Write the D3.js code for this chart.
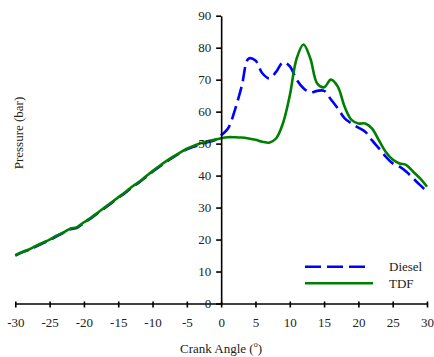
<!DOCTYPE html>
<html>
<head>
<meta charset="utf-8">
<script src="https://cdn.jsdelivr.net/npm/d3@7"></script>
<style>
  body { margin: 0; background: #fff; }
  svg text { font-family: "Liberation Serif", "Times New Roman", serif; fill: #222; }
</style>
</head>
<body>
<svg id="plot" width="434" height="357"></svg>
<script>
// crank angle (deg)
const angles = d3.range(-30, 31);
// pressure (bar)
const diesel = [
  15.0, 16.0, 16.8, 17.8, 18.8, 19.8, 21.0, 22.1, 23.2, 23.7, 25.2,
  26.6, 28.2, 29.8, 31.4, 33.0, 34.6, 36.3, 37.8, 39.5, 41.2,
  42.8, 44.3, 45.7, 47.0, 48.2, 49.0, 49.8, 50.4, 51.0, 52.6,
  54.7, 60.5, 68.0, 76.6, 76.0, 72.0, 70.4, 72.4, 75.4, 74.2,
  70.0, 67.3, 66.0, 66.5, 66.5, 63.8, 61.0, 57.9, 56.3, 55.0,
  53.7, 51.0, 48.5, 45.9, 43.8, 42.8, 41.2, 39.1, 37.0, 35.0
];
const tdf = [
  15.1, 16.1, 16.9, 18.0, 19.0, 20.0, 21.2, 22.2, 23.4, 23.9, 25.4,
  26.8, 28.4, 30.0, 31.6, 33.2, 34.8, 36.5, 38.0, 39.7, 41.4,
  43.0, 44.5, 45.9, 47.2, 48.4, 49.3, 50.1, 50.7, 51.2, 51.7,
  52.0, 52.0, 51.9, 51.6, 51.2, 50.6, 50.3, 51.6, 56.3, 65.0,
  76.6, 81.0, 76.6, 68.8, 67.6, 70.0, 67.8, 61.5, 57.4, 56.3,
  56.3, 54.7, 51.0, 47.4, 45.0, 43.8, 43.3, 41.2, 39.1, 36.5
];
const xTicks = d3.range(-30, 31, 5);
const yTicks = d3.range(0, 91, 10);
const seriesNames = ["Diesel", "TDF"];

const svg = d3.select("#plot");
const x = d3.scaleLinear([-30, 30], [15.3, 427]);
const y = d3.scaleLinear([0, 90], [303.5, 15.7]);

// data lines
const line = (vals) =>
  d3.line().x((d, i) => x(angles[i])).y((d) => y(d)).curve(d3.curveCatmullRom.alpha(0.5))(vals);

svg.append("path").attr("d", line(diesel))
  .attr("fill", "none").attr("stroke", "#0000ff").attr("stroke-width", 2.6)
  .attr("stroke-dasharray", "14,6");
svg.append("path").attr("d", line(tdf))
  .attr("fill", "none").attr("stroke", "#008000").attr("stroke-width", 2.6);

// x axis along y = 0
const gx = svg.append("g")
  .attr("transform", `translate(0, ${y(0)})`)
  .call(d3.axisBottom(x).tickValues(xTicks).tickFormat((d) => String(d))
    .tickSize(4).tickSizeOuter(0).tickPadding(10));
// y axis at x = 0
const gy = svg.append("g")
  .attr("transform", `translate(${x(0)}, 0)`)
  .call(d3.axisLeft(y).tickValues(yTicks).tickFormat((d) => String(d))
    .tickSize(5).tickSizeOuter(0).tickPadding(5));

[gx, gy].forEach((g) => {
  g.select(".domain").attr("stroke", "#000").attr("stroke-width", 1.6);
  g.selectAll(".tick line").attr("stroke", "#000").attr("stroke-width", 1.6);
  g.selectAll(".tick text").attr("font-size", 13).attr("font-family", "Liberation Serif").attr("fill", "#222");
});
gx.selectAll(".tick line").attr("y1", -2);

// axis titles
svg.append("text")
  .attr("transform", "translate(23, 133) rotate(-90)")
  .attr("text-anchor", "middle").attr("font-size", 13)
  .text("Pressure (bar)");
const xt = svg.append("text")
  .attr("x", 221).attr("y", 353)
  .attr("text-anchor", "middle").attr("font-size", 13);
xt.append("tspan").text("Crank Angle (");
xt.append("tspan").attr("font-size", 8).attr("dy", -6).text("o");
xt.append("tspan").attr("dy", 6).text(")");

// legend
const legend = svg.append("g");
const legY = [266.7, 283.3];
const legEnd = [367, 373];
seriesNames.forEach((name, i) => {
  legend.append("line")
    .attr("x1", 305).attr("x2", legEnd[i]).attr("y1", legY[i]).attr("y2", legY[i])
    .attr("stroke", i === 0 ? "#0000ff" : "#008000").attr("stroke-width", 2.6)
    .attr("stroke-dasharray", i === 0 ? "16,6" : null);
  legend.append("text")
    .attr("x", 389).attr("y", legY[i]).attr("dy", "0.35em")
    .attr("font-size", 13).text(name);
});
</script>
</body>
</html>
